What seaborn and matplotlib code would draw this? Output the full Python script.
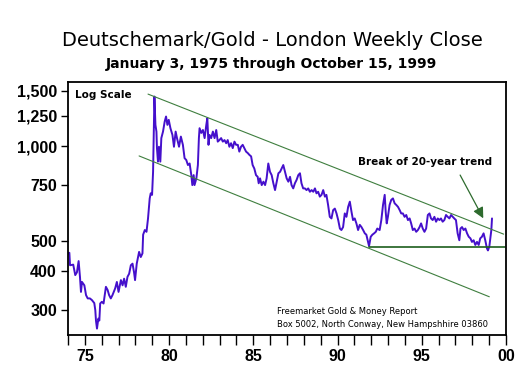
import matplotlib
matplotlib.use("Agg")
import matplotlib.pyplot as plt
import matplotlib.ticker as mticker
import pandas as pd
import seaborn as sns

# weekly close (x = year, 74 = 1974)
years = [74.02, 74.08, 74.12, 74.31, 74.43, 74.53, 74.63, 74.71, 74.77, 74.83, 74.97,
         75.07, 75.17, 75.30, 75.42, 75.56, 75.62, 75.66, 75.72, 75.80, 75.86, 75.91,
         76.01, 76.11, 76.25, 76.35, 76.44, 76.54, 76.64, 76.80, 76.90, 77.00, 77.14,
         77.24, 77.33, 77.43, 77.53, 77.63, 77.73, 77.83, 77.92, 77.98, 78.08, 78.22,
         78.32, 78.42, 78.46, 78.56, 78.66, 78.75, 78.85, 78.91, 78.99, 79.05, 79.09,
         79.13, 79.19, 79.25, 79.28, 79.34, 79.40, 79.48, 79.54, 79.64, 79.74, 79.82,
         79.90, 79.98, 80.08, 80.20, 80.29, 80.39, 80.47, 80.59, 80.70, 80.82, 80.92,
         81.02, 81.12, 81.22, 81.32, 81.38, 81.46, 81.51, 81.62, 81.71, 81.77, 81.81,
         81.91, 82.01, 82.11, 82.21, 82.27, 82.34, 82.40, 82.50, 82.60, 82.70, 82.80,
         82.89, 82.99, 83.09, 83.19, 83.29, 83.39, 83.48, 83.58, 83.68, 83.78, 83.88,
         83.98, 84.08, 84.17, 84.27, 84.37, 84.47, 84.57, 84.67, 84.77, 84.87, 84.96,
         85.06, 85.16, 85.26, 85.32, 85.40, 85.50, 85.60, 85.70, 85.79, 85.89, 85.99,
         86.09, 86.19, 86.29, 86.39, 86.49, 86.59, 86.68, 86.78, 86.88, 86.98, 87.08,
         87.18, 87.27, 87.37, 87.47, 87.57, 87.67, 87.77, 87.86, 87.96, 88.06, 88.16,
         88.26, 88.36, 88.46, 88.56, 88.66, 88.75, 88.85, 88.95, 89.05, 89.15, 89.25,
         89.34, 89.44, 89.54, 89.64, 89.74, 89.84, 89.94, 90.04, 90.14, 90.23, 90.33,
         90.43, 90.53, 90.63, 90.73, 90.83, 90.92, 91.02, 91.12, 91.22, 91.32, 91.42,
         91.52, 91.62, 91.71, 91.81, 91.87, 91.97, 92.07, 92.17, 92.27, 92.36, 92.50,
         92.60, 92.70, 92.80, 92.86, 92.92, 92.99, 93.09, 93.19, 93.29, 93.39, 93.49,
         93.59, 93.69, 93.78, 93.88, 93.98, 94.08, 94.18, 94.28, 94.37, 94.47, 94.57,
         94.67, 94.77, 94.87, 94.96, 95.06, 95.16, 95.26, 95.36, 95.46, 95.55, 95.65,
         95.75, 95.85, 95.95, 96.05, 96.14, 96.24, 96.34, 96.44, 96.54, 96.64, 96.74,
         96.84, 96.93, 97.03, 97.13, 97.23, 97.30, 97.39, 97.49, 97.59, 97.69, 97.79,
         97.89, 97.98, 98.08, 98.18, 98.28, 98.38, 98.47, 98.57, 98.67, 98.77, 98.87,
         98.93, 99.01, 99.07, 99.13, 99.17]
closes = [455, 457, 417, 419, 388, 396, 430, 383, 343, 369, 360,
          335, 327, 327, 323, 316, 300, 278, 262, 282, 278, 315,
          319, 315, 356, 348, 335, 327, 335, 352, 369, 343, 374,
          360, 378, 356, 383, 392, 417, 422, 396, 374, 422, 460,
          443, 455, 522, 540, 533, 588, 681, 707, 699, 828, 1085,
          1438, 1168, 1112, 985, 892, 995, 892, 1060, 1112, 1197, 1242,
          1168, 1212, 1140, 1085, 995, 1112, 1060, 995, 1072, 1009, 915,
          903, 870, 880, 808, 751, 808, 751, 789, 870, 1060, 1140,
          1101, 1125, 1060, 1168, 1227, 1009, 1085, 1060, 1112, 1060, 1125,
          1033, 1045, 1060, 1033, 1045, 1021, 1045, 995, 1021, 985, 1033,
          1009, 1009, 960, 995, 1009, 985, 960, 950, 937, 927, 870,
          848, 808, 798, 761, 789, 751, 770, 751, 789, 880, 828,
          808, 761, 724, 770, 819, 828, 848, 870, 828, 789, 770,
          798, 751, 733, 761, 780, 808, 819, 761, 733, 733, 724,
          733, 715, 724, 715, 733, 707, 715, 690, 699, 724, 690,
          699, 649, 595, 588, 625, 632, 610, 581, 546, 540, 552,
          610, 595, 640, 665, 617, 581, 588, 567, 540, 561, 552,
          540, 527, 522, 495, 480, 514, 522, 527, 533, 546, 540,
          581, 649, 699, 617, 567, 595, 649, 674, 681, 657, 649,
          640, 625, 610, 610, 595, 603, 581, 588, 567, 540, 546,
          533, 540, 552, 567, 546, 533, 546, 603, 610, 588, 581,
          595, 574, 588, 581, 588, 574, 581, 603, 595, 588, 603,
          595, 588, 581, 527, 501, 546, 552, 540, 546, 527, 514,
          508, 495, 501, 484, 495, 484, 508, 514, 527, 501, 472,
          465, 478, 508, 540, 588]

# channel lines (x, value)
upper_x = [78.75, 99.86]
upper_y = [1464, 524]
lower_x = [78.22, 99.01]
lower_y = [930, 331]
floor_x = [91.87, 99.92]
floor_y = [476, 476]

ytick_vals = [300, 400, 500, 750, 1000, 1250, 1500]
xtick_major = [75, 80, 85, 90, 95, 100]
xtick_labels = ["75", "80", "85", "90", "95", "00"]

df = pd.DataFrame({"year": years, "close": closes})

sns.set_style("white")
plt.rcParams["font.family"] = ["Liberation Sans", "DejaVu Sans"]
plt.rcParams.update({"text.color": "black", "xtick.color": "black",
                     "ytick.color": "black", "axes.labelcolor": "black"})

fig = plt.figure(figsize=(5.28, 3.81), dpi=100)
ax = fig.add_axes([0.1288, 0.1207, 0.8295, 0.6641])

sns.lineplot(data=df, x="year", y="close", ax=ax, color="#4510CC", lw=1.4)
sns.lineplot(x=upper_x, y=upper_y, ax=ax, color="#3F7F3F", lw=0.8)
sns.lineplot(x=lower_x, y=lower_y, ax=ax, color="#3F7F3F", lw=0.8)
sns.lineplot(x=floor_x, y=floor_y, ax=ax, color="#1D5E1D", lw=1.2)

ax.set_yscale("log")
ax.set_ylim(250, 1600)
ax.set_xlim(74, 100)
ax.yaxis.set_major_locator(mticker.FixedLocator(ytick_vals))
ax.yaxis.set_major_formatter(mticker.FuncFormatter(lambda v, p: f"{int(v):,}"))
ax.yaxis.set_minor_locator(mticker.NullLocator())
ax.set_xticks(xtick_major)
ax.set_xticklabels(xtick_labels)
ax.set_xticks(list(range(74, 101)), minor=True)
ax.tick_params(axis="x", which="both", direction="out", length=7, width=1, bottom=True, pad=3)
ax.tick_params(axis="y", which="major", direction="out", length=5, width=1, left=True, pad=3)
ax.tick_params(labelsize=11.5)
for lab in ax.get_xticklabels() + ax.get_yticklabels():
    lab.set_fontweight("bold")
ax.set_xlabel("")
ax.set_ylabel("")
for s in ax.spines.values():
    s.set_color("black")
    s.set_linewidth(1.3)

ax.annotate("", xy=(98.73, 578), xytext=(97.2, 823),
            arrowprops=dict(arrowstyle="-|>", color="#2E6B2E", lw=0.9, mutation_scale=16))

ax.text(0.016, 0.95, "Log Scale", transform=ax.transAxes, fontsize=7.5,
        fontweight="bold", va="center", ha="left", family=["DejaVu Sans"])
ax.text(0.662, 0.684, "Break of 20-year trend", transform=ax.transAxes, fontsize=7.5,
        fontweight="bold", va="center", ha="left", family=["DejaVu Sans"])
ax.text(0.477, 0.091, "Freemarket Gold & Money Report", transform=ax.transAxes,
        fontsize=6, va="center", ha="left", family=["DejaVu Sans"])
ax.text(0.477, 0.040, "Box 5002, North Conway, New Hampshhire 03860", transform=ax.transAxes,
        fontsize=6, va="center", ha="left", family=["DejaVu Sans"])

fig.text(0.515, 0.895, "Deutschemark/Gold - London Weekly Close", ha="center", va="center",
         fontsize=14, family=["DejaVu Sans"])
fig.text(0.515, 0.832, "January 3, 1975 through October 15, 1999", ha="center", va="center",
         fontsize=10, fontweight="bold", family=["DejaVu Sans"])

fig.savefig("out.png", dpi=100)
